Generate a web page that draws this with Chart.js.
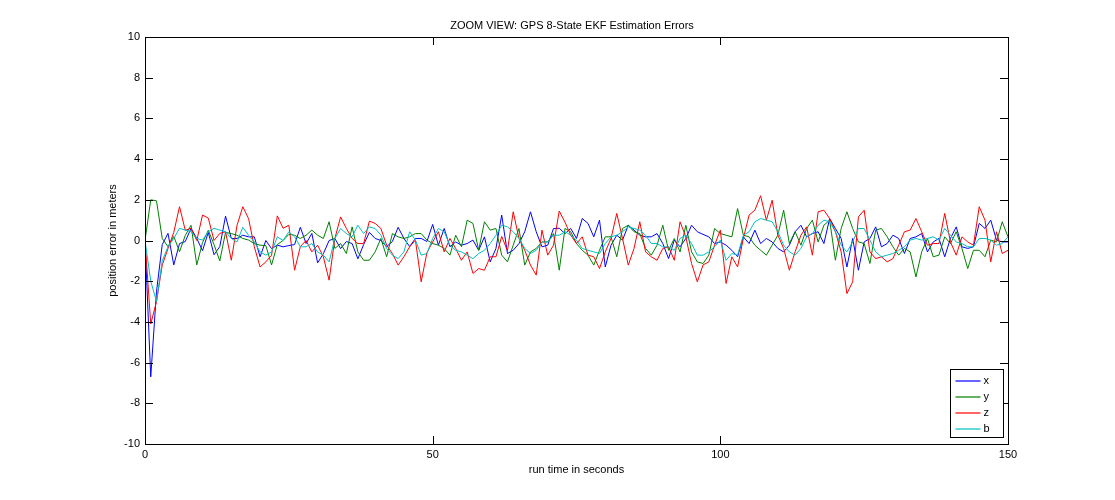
<!DOCTYPE html>
<html>
<head>
<meta charset="utf-8">
<title>GPS 8-State EKF Estimation Errors</title>
<script src="https://cdn.jsdelivr.net/npm/chart.js@4.4.1/dist/chart.umd.min.js"></script>
<style>
  html, body { margin: 0; padding: 0; background: #fff; }
  #wrap { width: 1115px; height: 500px; }
</style>
</head>
<body>
<div id="wrap"><canvas id="ekf-chart" width="1115" height="500"></canvas></div>
<script>
(function() {
  'use strict';

  // sample times (s)
  var timeSec = [
    0, 1, 2, 3, 4, 5, 6, 7, 8, 9, 10, 11, 12, 13, 14, 15, 16, 17, 18, 19, 20,
    21, 22, 23, 24, 25, 26, 27, 28, 29, 30, 31, 32, 33, 34, 35, 36, 37, 38, 39, 40,
    41, 42, 43, 44, 45, 46, 47, 48, 49, 50, 51, 52, 53, 54, 55, 56, 57, 58, 59, 60,
    61, 62, 63, 64, 65, 66, 67, 68, 69, 70, 71, 72, 73, 74, 75, 76, 77, 78, 79, 80,
    81, 82, 83, 84, 85, 86, 87, 88, 89, 90, 91, 92, 93, 94, 95, 96, 97, 98, 99, 100,
    101, 102, 103, 104, 105, 106, 107, 108, 109, 110, 111, 112, 113, 114, 115, 116, 117, 118, 119, 120,
    121, 122, 123, 124, 125, 126, 127, 128, 129, 130, 131, 132, 133, 134, 135, 136, 137, 138, 139, 140,
    141, 142, 143, 144, 145, 146, 147, 148, 149, 150
  ];

  var errX = [
    0, -6.7, -2.5, -0.2, 0.35, -1.2, -0.15, -0.05, 0.6, 0.1, -0.5,
    0.4, -0.7, -0.3, 1.2, 0.1, 0.1, 0.26, 0.18, 0.18, -0.8,
    0, -0.4, -0.23, -0.31, -0.25, -0.2, 0.65, -0.15, 0.35, -1.1,
    -0.65, 0, 0.1, -0.4, -0.05, -0.15, -0.9, -0.2, 0.4, 0.1,
    0, -0.3, -0.05, 0.65, 0.1, -0.3, 0.1, 0.1, -0.05, 0.79,
    -0.23, 0.59, -0.31, -0.07, -0.23, -0.15, 0.02, -0.48, 0.18, -1.05,
    -0.39, 1.25, -0.64, -0.48, -0.15, 0.43, 1.41, 0.43, -0.31, -0.23,
    0.59, 0.6, 0.34, 0.59, 0.1, 1.08, 0.84, 0.18, 1.0, -1.3,
    -0.23, 0.26, 0.02, 0.75, 0.51, 0.26, 0.18, 0.18, 0.34, -0.15,
    -0.89, 0.02, -0.31, 0.1, 0.75, 0.43, 0.3, 0.18, -0.15, -0.07,
    -0.23, -0.48, -0.8, 0.18, -0.15, 0.51, -0.15, 0.1, -0.07, -0.39,
    -0.56, -0.23, 0.43, 0.75, 0.18, 0.34, 0.43, -0.15, 1.08, 0.59,
    0.1, -1.3, 0.1, -1.46, -0.07, 0.1, 0.67, -0.31, -0.15, 0.26,
    0.1, -0.64, 0.1, 0.18, 0.34, -0.56, -0.07, 0.1, -0.8, 0.1,
    0.67, -0.31, -0.39, -0.31, 0.84, 0.59, 1.0, 0.02, -0.07, -0.07
  ];

  var errY = [
    0, 2.0, 1.95, 0.1, -0.3, 0.2, -0.55, 0.25, 0.75, -1.2, -0.1,
    0.5, -0.2, -1.0, 0.4, 0.34, 0.26, 0.1, 0.02, -0.15, -0.23,
    -0.25, -1.2, -0.2, 0, 0.3, 0.26, 0.1, 0.26, 0.51, 0.26,
    0.1, 0.92, -0.39, -0.15, -0.64, 0.67, -0.56, -0.97, -0.97, -0.56,
    0.1, -0.8, 0.34, 0.18, 0.1, 0.18, 0.34, 0.34, 0.02, -0.15,
    -0.23, -0.39, -0.72, 0.26, -0.31, 1.0, 0.84, -0.48, 0.92, 0.51,
    0.59, -0.72, -1.05, -0.23, 0.59, -1.21, -0.56, -0.39, -0.07, -0.07,
    0.34, -1.46, 0.59, 0.43, -0.15, -0.48, -0.72, -1.21, -0.48, 0.18,
    0.18, -0.8, 0.59, 0.75, 0.43, 0.34, -0.39, -0.72, -0.23, 0.75,
    -0.48, 0.1, -0.56, 0.75, -0.56, -1.05, -1.13, -0.72, 0.59, 0.34,
    0.26, 0.18, 1.57, 0.26, 0.18, -0.23, -0.48, -0.72, -0.23, 0.26,
    1.49, -0.15, 0.43, -0.23, 0.59, 1.0, -0.07, 0.75, 1.0, -0.97,
    0.59, 1.41, 0.59, -0.07, -0.15, -1.13, 0.51, 0.59, 0.18, -0.31,
    -0.72, -0.39, -0.56, -1.79, -0.56, 0.1, -0.8, -0.72, 0.18, -0.15,
    0.43, -0.39, -1.38, -0.48, -0.48, -0.8, 0.02, -0.07, 0.92, 0.18
  ];

  var errZ = [
    0, -4.1, -3.0, -1.2, -0.4, 0.4, 1.66, 0.5, 0.6, 0, 1.25,
    1.1, 0, 0.35, 0.43, -0.97, 0.75, 1.66, 1.08, -0.31, -1.3,
    -1.05, -0.72, 1.21, 0.6, 0.75, -1.46, -0.3, 0, -0.56, -0.23,
    -0.8, -1.95, 0.1, 1.16, 0.59, 0.1, -0.15, -0.15, 0.95, 0.84,
    0.59, -0.23, -0.64, -1.21, -0.8, -0.31, 0.02, -2.03, -0.6, -0.07,
    0.43, -0.56, 0.1, -0.39, -0.97, -0.56, -1.62, -1.38, -1.46, -0.8,
    -0.8, 0.2, -0.5, 1.41, 0.1, -0.48, -1.21, -1.7, 0.51, -0.72,
    -0.23, 1.45, 0.9, 0.26, -0.15, 0.18, -0.72, -0.8, -1.38, -0.56,
    0.1, 1.33, 0.1, -1.21, -0.39, 0.92, -0.56, -0.8, -0.97, -0.39,
    -0.31, -0.97, 0.92, 0.18, -1.13, -2.03, -1.2, -1.05, -0.23, 0.51,
    -2.11, -0.8, -1.3, 0.1, 1.25, 1.49, 2.2, 1.0, 1.98, 0.26,
    -0.39, -1.46, -0.56, 0.26, 0.67, -0.72, 1.41, 1.49, 1.08, 0.43,
    -0.56, -2.61, -2.03, 1.16, 1.49, -0.56, -0.89, -0.8, -1.05, -0.89,
    -0.23, 0.43, 0.51, 1.08, 0.43, -0.23, -0.15, -0.15, 1.33, -0.07,
    -0.72, 0.18, -0.07, -0.23, 1.66, 1.0, -1.05, 0.43, -0.64, -0.48
  ];

  var errB = [
    0, -2.0, -3.0, -1.0, -0.3, 0.1, 0.6, 0.51, 0.43, 0.1, 0.02,
    0.43, 0.6, 0.51, 0.43, 0.1, -0.07, 0.65, 0.26, -0.07, -0.56,
    -0.72, -0.56, 0.18, 0, 0.43, 0.18, -0.31, -0.31, -0.15, -0.56,
    -0.72, -1.05, 0.1, 0.59, 0.34, 0.18, 0.75, 0.34, 0.67, 0.59,
    0.26, -0.39, -0.72, -0.89, -0.56, 0.43, 0.02, -0.72, -0.64, 0.1,
    0.59, 0.43, -0.23, -0.48, -0.56, -0.72, -0.89, -0.64, -0.48, -0.15,
    0.26, 0.75, 0.67, 0.43, 0.1, -0.39, -0.64, -0.48, -0.07, -0.07,
    0.26, 0.26, 0.43, 0.26, 0.02, -0.39, -0.48, -0.56, -0.64, -0.15,
    0.18, 0.26, 0.43, 0.67, 0.59, 0.51, 0.26, -0.15, -0.15, -0.31,
    -0.31, -0.48, 0.1, 0.26, -0.15, -0.72, -0.72, -0.56, -0.31, 0.02,
    -0.97, -0.64, -0.72, 0.26, 0.43, 0.92, 1.08, 1.0, 0.92, 0.43,
    -0.23, -0.56, -0.72, -0.39, 0.18, 0.34, 0.75, 1.0, 0.92, 0.43,
    -0.23, -0.56, -0.07, 0.59, 0.59, 0.02, -0.56, -0.8, -0.72, -0.64,
    -0.48, -0.31, 0.02, 0.1, 0.02, 0.1, 0.18, 0.02, 0.59, 0.26,
    -0.07, -0.15, -0.31, -0.31, 0.1, 0.1, 0.02, -0.23, -0.15, 0.18
  ];

  var seriesLabels = ['x', 'y', 'z', 'b'];
  var seriesColors = ['#0000ff', '#008000', '#ff0000', '#00bfbf'];
  var xTicks = [0, 50, 100, 150];
  var yTicks = [-10, -8, -6, -4, -2, 0, 2, 4, 6, 8, 10];

  var FONT = '"Liberation Sans", Arial, Helvetica, sans-serif';

  function toPoints(values) {
    return values.map(function(v, i) {
      return { x: timeSec[i], y: v };
    });
  }

  function makeDataset(idx, values) {
    return {
      label: seriesLabels[idx],
      data: toPoints(values),
      borderColor: seriesColors[idx],
      backgroundColor: seriesColors[idx],
      borderWidth: 1,
      pointRadius: 0,
      tension: 0,
      fill: false,
      order: 4 - idx
    };
  }

  // matlab style box with inward ticks on all four sides
  var axesBox = {
    id: 'axesBox',
    afterDatasetsDraw: function(chart) {
      var ctx = chart.ctx;
      var a = chart.chartArea;
      var sx = chart.scales.x;
      var sy = chart.scales.y;
      var tick = 8;
      ctx.save();
      ctx.strokeStyle = '#000';
      ctx.lineWidth = 1;
      ctx.beginPath();
      xTicks.forEach(function(v) {
        var px = Math.round(sx.getPixelForValue(v)) + 0.5;
        ctx.moveTo(px, a.bottom);
        ctx.lineTo(px, a.bottom - tick);
        ctx.moveTo(px, a.top);
        ctx.lineTo(px, a.top + tick);
      });
      yTicks.forEach(function(v) {
        var py = Math.round(sy.getPixelForValue(v)) + 0.5;
        ctx.moveTo(a.left, py);
        ctx.lineTo(a.left + tick, py);
        ctx.moveTo(a.right, py);
        ctx.lineTo(a.right - tick, py);
      });
      ctx.stroke();
      ctx.strokeRect(Math.round(a.left) + 0.5, Math.round(a.top) + 0.5,
        Math.round(a.right - a.left), Math.round(a.bottom - a.top));
      ctx.restore();
    }
  };

  // legend box in lower right corner, like matlab 'Location','SouthEast'
  var cornerLegend = {
    id: 'cornerLegend',
    afterDraw: function(chart) {
      var ctx = chart.ctx;
      var a = chart.chartArea;
      var w = 53, h = 68;
      var left = Math.round(a.right) - 58 + 0.5;
      var top = Math.round(a.bottom) - 75 + 0.5;
      ctx.save();
      ctx.fillStyle = '#fff';
      ctx.fillRect(left, top, w, h);
      ctx.strokeStyle = '#000';
      ctx.lineWidth = 1;
      ctx.strokeRect(left, top, w, h);
      ctx.font = '11px ' + FONT;
      ctx.textBaseline = 'middle';
      ctx.textAlign = 'left';
      seriesLabels.forEach(function(lbl, i) {
        var y = Math.round(top + 11 + i * 16.2);
        ctx.strokeStyle = seriesColors[i];
        ctx.lineWidth = 1.2;
        ctx.beginPath();
        ctx.moveTo(left + 5, y);
        ctx.lineTo(left + 30, y);
        ctx.stroke();
        ctx.fillStyle = '#000';
        ctx.fillText(lbl, left + 33, y);
      });
      ctx.restore();
    }
  };

  var ctx = document.getElementById('ekf-chart').getContext('2d');
  var chart = new Chart(ctx, {
    type: 'line',
    data: {
      datasets: [
        makeDataset(0, errX),
        makeDataset(1, errY),
        makeDataset(2, errZ),
        makeDataset(3, errB)
      ]
    },
    options: {
      responsive: false,
      animation: false,
      devicePixelRatio: 1,
      layout: { padding: { left: 29, right: 0, top: 0, bottom: 0 } },
      plugins: {
        legend: { display: false },
        tooltip: { enabled: false },
        title: {
          display: true,
          text: 'ZOOM VIEW: GPS 8-State EKF Estimation Errors',
          color: '#000',
          font: { family: FONT, size: 11, weight: 'normal' },
          padding: { top: 19.4, bottom: 4.4 }
        }
      },
      scales: {
        x: {
          type: 'linear',
          min: 0,
          max: 150,
          afterBuildTicks: function(scale) {
            scale.ticks = xTicks.map(function(v) { return { value: v }; });
          },
          afterFit: function(scale) { scale.height = 56; },
          grid: { display: false, drawTicks: false },
          border: { display: false },
          ticks: {
            color: '#000',
            padding: 4,
            maxRotation: 0,
            font: { family: FONT, size: 11 }
          },
          title: {
            display: true,
            text: 'run time in seconds',
            color: '#000',
            font: { family: FONT, size: 11 },
            padding: { top: 0, bottom: 23.4 }
          }
        },
        y: {
          type: 'linear',
          min: -10,
          max: 10,
          afterBuildTicks: function(scale) {
            scale.ticks = yTicks.map(function(v) { return { value: v }; });
          },
          afterFit: function(scale) { scale.width = 116; },
          grid: { display: false, drawTicks: false },
          border: { display: false },
          ticks: {
            color: '#000',
            padding: 5,
            font: { family: FONT, size: 11 }
          },
          title: {
            display: true,
            text: 'position error in meters',
            color: '#000',
            font: { family: FONT, size: 11 },
            padding: { top: 77.4, bottom: 0 }
          }
        },
        yRight: {
          type: 'linear',
          position: 'right',
          min: -10,
          max: 10,
          afterFit: function(scale) { scale.width = 107; },
          grid: { display: false, drawTicks: false },
          border: { display: false },
          ticks: { display: false }
        }
      }
    },
    plugins: [axesBox, cornerLegend]
  });
})();
</script>
</body>
</html>
